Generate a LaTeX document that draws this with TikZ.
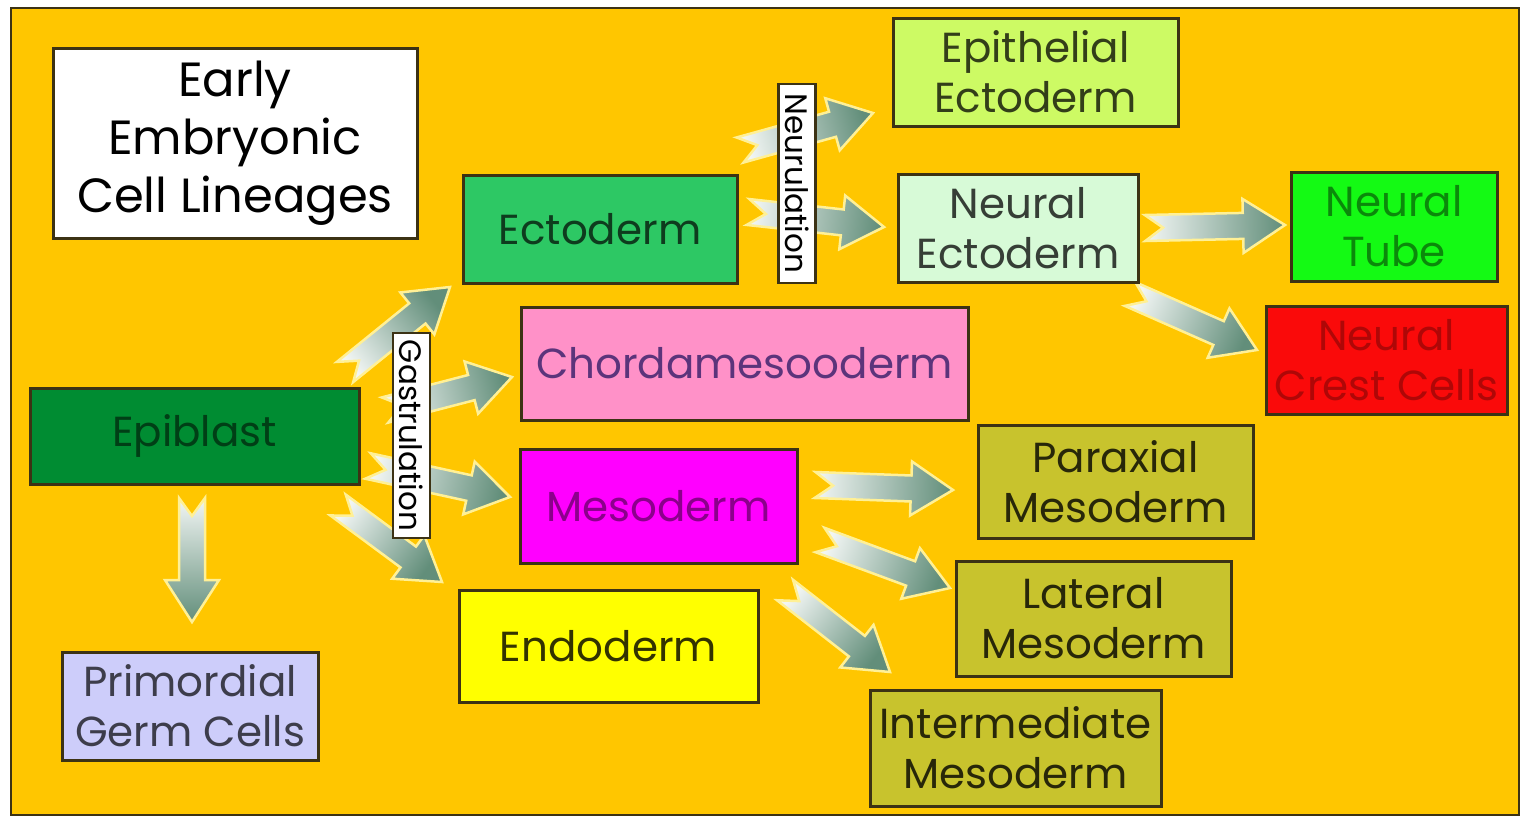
\documentclass[tikz,border=0pt]{standalone}
\usepackage{fontspec}
\setmainfont{Poppins}
\usetikzlibrary{calc}
\definecolor{bgorange}{RGB}{255,198,0}
\definecolor{boxline}{RGB}{60,50,20}
\definecolor{headc}{RGB}{98,142,122}
\definecolor{glow}{RGB}{255,240,150}
\definecolor{ectoc}{RGB}{45,200,100}
\definecolor{epic}{RGB}{0,140,50}
\definecolor{epithc}{RGB}{205,250,100}
\definecolor{nectc}{RGB}{215,250,215}
\definecolor{ntubec}{RGB}{20,250,20}
\definecolor{ncrestc}{RGB}{250,10,10}
\definecolor{chordc}{RGB}{255,145,200}
\definecolor{mesoc}{RGB}{255,0,255}
\definecolor{endoc}{RGB}{255,255,0}
\definecolor{olivec}{RGB}{200,195,45}
\definecolor{pgcc}{RGB}{205,205,250}
\tikzset{
  cbox/.style={draw=boxline, line width=3pt, inner sep=0pt, align=center,
    font=\fontsize{42}{50}\selectfont},
  vlabel/.style={draw=boxline, fill=white, line width=2.5pt, inner sep=0pt,
    minimum height=37pt, rotate=-90, font=\fontsize{31}{34}\selectfont},
  fatarr/.style={draw=glow, line width=2.5pt, top color=white!92!headc, bottom color=headc}
}
\newcommand\fatarrow[2]{%
  \pgfpointdiff{\pgfpointanchor{#1}{center}}{\pgfpointanchor{#2}{center}}%
  \pgfgetlastxy{\fdx}{\fdy}%
  \pgfmathsetmacro\fang{atan2(\fdy,\fdx)}%
  \pgfmathsetmacro\flen{veclen(\fdx,\fdy)}%
  \pgfmathsetmacro\fsang{\fang+90}%
  \begin{scope}[shift={(#1)}, rotate=\fang]
    \shade[fatarr, shading angle=\fsang] (0pt,-13pt) -- (\flen pt-42pt,-13pt) -- (\flen pt-42pt,-27pt) -- (\flen pt,0pt) -- (\flen pt-42pt,27pt) -- (\flen pt-42pt,13pt) -- (0pt,13pt) -- (18pt,0pt) -- cycle;
  \end{scope}}
\begin{document}
\begin{tikzpicture}[x=1pt,y=-1pt]
\useasboundingbox (0,0) rectangle (1523,820);
\fill[white] (0,0) rectangle (1523,820);
\fill[bgorange, draw=boxline, line width=1.5pt] (11,8) rectangle (1519,815);
% arrow end points
\coordinate (g1a) at (345,372); \coordinate (g1b) at (450,287);
\coordinate (g2a) at (385,410); \coordinate (g2b) at (512,377);
\coordinate (g3a) at (368,466); \coordinate (g3b) at (510,497);
\coordinate (g4a) at (338,505); \coordinate (g4b) at (442,582);
\coordinate (g5a) at (192,498); \coordinate (g5b) at (192,622);
\coordinate (n1a) at (740,150); \coordinate (n1b) at (873,113);
\coordinate (n2a) at (748,212); \coordinate (n2b) at (884,227);
\coordinate (e1a) at (1145,228); \coordinate (e1b) at (1285,225);
\coordinate (e2a) at (1130,294); \coordinate (e2b) at (1257,350);
\coordinate (m1a) at (815,485); \coordinate (m1b) at (953,490);
\coordinate (m2a) at (820,540); \coordinate (m2b) at (950,588);
\coordinate (m3a) at (785,590); \coordinate (m3b) at (890,672);
\fatarrow{g1a}{g1b}\fatarrow{g2a}{g2b}\fatarrow{g3a}{g3b}\fatarrow{g4a}{g4b}
\fatarrow{g5a}{g5b}
\fatarrow{n1a}{n1b}\fatarrow{n2a}{n2b}
\fatarrow{e1a}{e1b}\fatarrow{e2a}{e2b}
\fatarrow{m1a}{m1b}\fatarrow{m2a}{m2b}\fatarrow{m3a}{m3b}
% boxes
\node[cbox, fill=white, minimum width=364pt, minimum height=190pt,
  font=\fontsize{48}{58}\selectfont] (title) at (235,143) {Early\\Embryonic\\Cell Lineages};
\node[cbox, fill=ectoc, text=black!70!ectoc, minimum width=274pt, minimum height=108pt] (ecto) at (600,229) {Ectoderm};
\node[cbox, fill=epithc, text=black!75!epithc, minimum width=285pt, minimum height=108pt] (epith) at (1035.5,72) {Epithelial\\Ectoderm};
\node[cbox, fill=nectc, text=black!75!nectc, minimum width=240pt, minimum height=108pt] (nect) at (1018,228) {Neural\\Ectoderm};
\node[cbox, fill=ntubec, text=black!45!ntubec, minimum width=206pt, minimum height=109pt] (ntube) at (1394,226.5) {Neural\\Tube};
\node[cbox, fill=ncrestc, text=black!30!ncrestc, minimum width=241pt, minimum height=108pt] (ncrest) at (1386.5,360) {Neural\\Crest Cells};
\node[cbox, fill=chordc, text=black!55!chordc!80!blue, minimum width=447pt, minimum height=113pt] (chord) at (744.5,363.5) {Chordamesooderm};
\node[cbox, fill=epic, text=black!55!epic, minimum width=329pt, minimum height=96pt] (epi) at (194.5,436) {Epiblast};
\node[cbox, fill=mesoc, text=black!45!mesoc, minimum width=277pt, minimum height=114pt] (meso) at (658.5,506) {Mesoderm};
\node[cbox, fill=endoc, text=black!80!endoc, minimum width=299pt, minimum height=112pt] (endo) at (608.5,646) {Endoderm};
\node[cbox, fill=olivec, text=black!80!olivec, minimum width=275pt, minimum height=113pt] (parax) at (1115.5,481.5) {Paraxial\\Mesoderm};
\node[cbox, fill=olivec, text=black!80!olivec, minimum width=275pt, minimum height=115pt] (lat) at (1093.5,618.5) {Lateral\\Mesoderm};
\node[cbox, fill=olivec, text=black!80!olivec, minimum width=291pt, minimum height=116pt] (inter) at (1015.5,748) {Intermediate\\Mesoderm};
\node[cbox, fill=pgcc, text=black!70!pgcc, minimum width=256pt, minimum height=108pt] (pgc) at (190,706) {Primordial\\Germ Cells};
% process labels
\node[vlabel, minimum width=199pt] (neur) at (797,183.5) {Neurulation};
\node[vlabel, minimum width=205pt] (gast) at (411.5,435.5) {Gastrulation};
\end{tikzpicture}
\end{document}
